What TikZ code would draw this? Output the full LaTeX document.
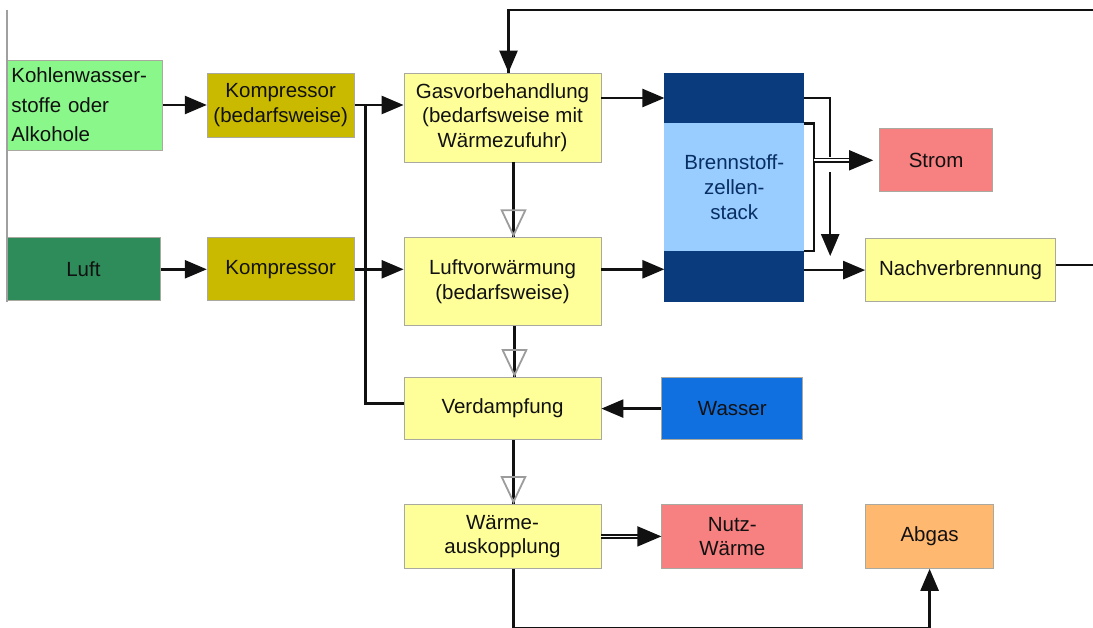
\documentclass[tikz,border=0pt]{standalone}
\usepackage{fontspec}
\setmainfont{Liberation Sans}
\usepackage{xcolor}
\usetikzlibrary{arrows.meta,positioning,decorations.markings}
\definecolor{Ink}{HTML}{111111}
\definecolor{Rule}{HTML}{A9A9A0}
\definecolor{Muted}{HTML}{A0A0A0}
\definecolor{Hollow}{HTML}{9C9C9C}
\definecolor{LightGreen}{HTML}{8AF78A}
\definecolor{SeaGreen}{HTML}{2E8B5A}
\definecolor{Olive}{HTML}{C9BA00}
\definecolor{PaleYellow}{HTML}{FFFF99}
\definecolor{Navy}{HTML}{0A3B7C}
\definecolor{SkyBlue}{HTML}{99CCFF}
\definecolor{WaterBlue}{HTML}{1170E0}
\definecolor{Salmon}{HTML}{F78080}
\definecolor{Apricot}{HTML}{FFB870}

\begin{document}
\begin{tikzpicture}[x=1pt, y=1pt,
  entity/.style={draw=Rule, line width=0.8pt, fill=PaleYellow, inner sep=0pt,
    minimum width=197pt, minimum height=63pt, align=center, text=Ink,
    font=\fontsize{20.5}{24.5}\selectfont},
  rel/.style={-{Triangle[length=22pt,width=18pt]}, line width=2.5pt, draw=Ink},
  plain/.style={line width=2.5pt, draw=Ink},
  dbl/.style={-{Triangle[length=24pt,width=20pt]}, draw=Ink, line width=1.6pt,
    double=white, double distance=1.8pt},
  hollow/.style={line width=2.5pt, draw=Ink, postaction={decorate},
    decoration={markings, mark=at position 1 with
      {\arrow{Triangle[open, color=Hollow, line width=1.8pt, length=28pt, width=26pt]}}}}
]
  \useasboundingbox (0,0) rectangle (1093,-628);
  \clip (0,0) rectangle (1093,-628);

  \node[entity, minimum height=89pt] (gasvor) at (502.5,-117.5)
    {Gasvorbehandlung\\(bedarfsweise mit\\Wärmezufuhr)};
  \node[entity, minimum height=88pt, below=75pt of gasvor] (luftvor)
    {Luftvorwärmung\\(bedarfsweise)};
  \node[entity, minimum height=62pt, below=51pt of luftvor] (verdampf) {Verdampfung};
  \node[entity, minimum height=64pt, below=64pt of verdampf] (auskopp)
    {Wärme-\\auskopplung};

  \node[entity, fill=Olive, minimum width=147pt, minimum height=64pt,
    below left=0pt and 49pt of gasvor.north west] (kompb) {Kompressor\\(bedarfsweise)};
  \node[entity, fill=Olive, minimum width=147pt,
    below left=0pt and 49pt of luftvor.north west] (komp) {Kompressor};
  \node[entity, fill=LightGreen, minimum width=156pt, minimum height=90pt,
    text width=146pt, align=left, font=\fontsize{20.5}{29.5}\selectfont,
    left=44pt of kompb] (kohlen) {Kohlenwasser-\\stoffe oder\\Alkohole};
  \node[entity, fill=SeaGreen, minimum width=154pt, left=46pt of komp] (luft) {Luft};

  \node[entity, fill=Navy, draw=Navy, minimum width=139pt, minimum height=50pt,
    below right=0pt and 63pt of gasvor.north east] (stacktop) {};
  \node[entity, fill=SkyBlue, draw=SkyBlue, minimum width=139pt, minimum height=127pt,
    below=0pt of stacktop, text=Navy!80!black, font=\fontsize{20.5}{25}\selectfont] (stackmid)
    {Brennstoff-\\zellen-\\stack};
  \node[entity, fill=Navy, draw=Navy, minimum width=139pt, minimum height=50pt,
    below=0pt of stackmid] (stackbot) {};

  \node[entity, fill=WaterBlue, minimum width=141pt, minimum height=62pt,
    right=60pt of verdampf] (wasser) {Wasser};
  \node[entity, fill=Salmon, minimum width=141pt, minimum height=64pt,
    right=60pt of auskopp] (nutz) {Nutz-\\Wärme};
  \node[entity, fill=Salmon, minimum width=113pt,
    below right=5pt and 75pt of stacktop.south east] (strom) {Strom};
  \node[entity, minimum width=190pt,
    above right=0pt and 61pt of stackbot.south east] (nachverb) {Nachverbrennung};
  \node[entity, fill=Apricot, minimum width=128pt, minimum height=64pt,
    below right=202pt and 0pt of nachverb.south west] (abgas) {Abgas};

  \draw[Muted, line width=1.2pt] (7,-10) -- (7,-302);

  \coordinate[right=11pt of kompb.east] (jn);
  \coordinate[right=26pt of stacktop.east] (an);
  \coordinate[right=10pt of stacktop.south east] (el);
  \coordinate (ret) at (1120,-10);

  \draw[rel] (kohlen.east) -- (kohlen.east -| kompb.west);
  \draw[rel] (luft) -- (komp);
  \draw[rel] (kompb.east) -- (kompb.east -| gasvor.west);
  \draw[rel] (komp.east) -- (komp.east -| luftvor.west);
  \draw[plain] ([yshift=5pt]verdampf.west) -| (jn);
  \draw[rel] (stacktop.west -| gasvor.east) -- (stacktop.west);
  \draw[rel] (luftvor.east |- komp.east) -- (stackbot.west |- komp.east);
  \draw[hollow] ([xshift=11pt]gasvor.south) -- ([xshift=11pt]luftvor.north);
  \draw[hollow] ([xshift=12pt]luftvor.south) -- ([xshift=12pt]verdampf.north);
  \draw[hollow] ([xshift=11pt]verdampf.south) -- ([xshift=11pt]auskopp.north);
  \draw[rel] (wasser) -- (verdampf);
  \draw[dbl] (auskopp) -- (nutz);
  \draw[rel] ([xshift=11pt]auskopp.south) -- ++(0,-59) -| (abgas.south);

  \draw[plain] (stacktop.south east) -| (el |- stackbot.north east) -- (stackbot.north east);
  \draw[dbl] (el |- strom.west) -- ([xshift=-6pt]strom.west);
  \draw[plain] (stacktop.east) -| ([yshift=3pt]an |- strom.west);
  \draw[rel] ([yshift=-12pt]an |- strom.west) -- ([yshift=14pt]an |- nachverb.west);
  \draw[rel] (stackbot.east |- nachverb.west) -- (nachverb.west);
  \draw[plain] ([yshift=5pt]nachverb.east) -| (ret) -| ([xshift=6pt]gasvor.north);
  \draw[rel] (ret) -| ([xshift=6pt]gasvor.north);
\end{tikzpicture}
\end{document}
